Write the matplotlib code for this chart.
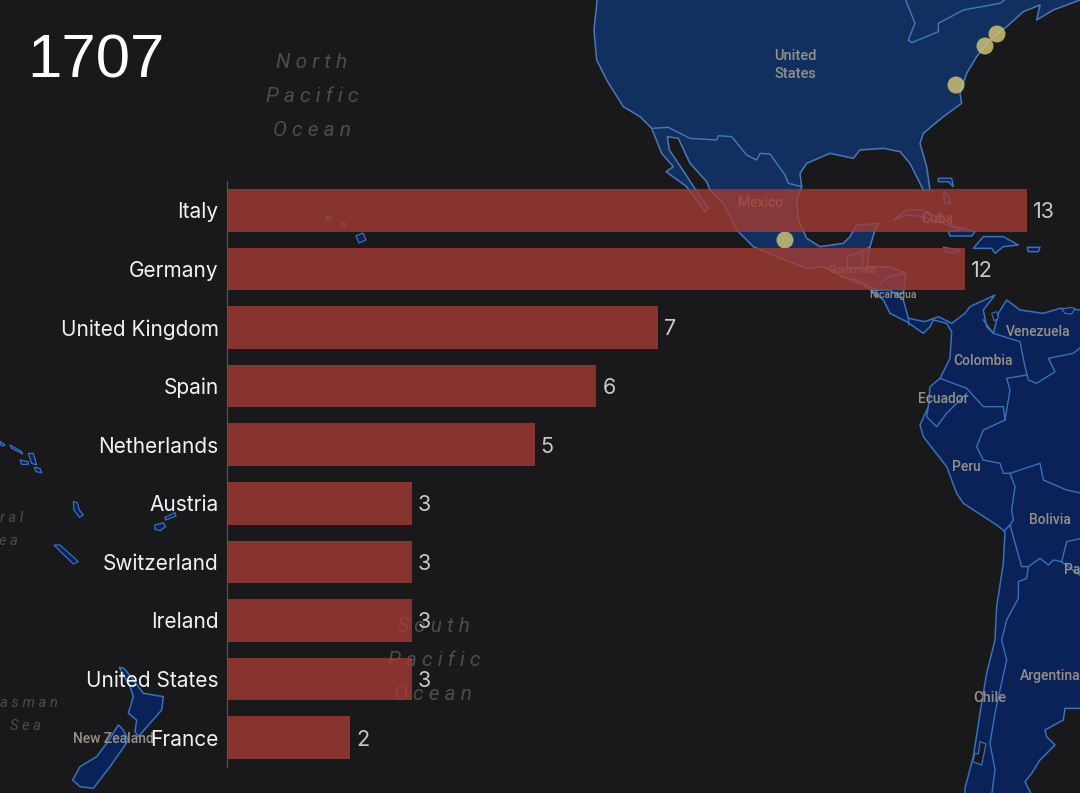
import matplotlib
matplotlib.use("Agg")
import matplotlib.pyplot as plt
from matplotlib.patches import Circle, Polygon

# ── Chart data ────────────────────────────────────────────────────────────────
year = "1707"
countries = ["Italy", "Germany", "United Kingdom", "Spain", "Netherlands",
             "Austria", "Switzerland", "Ireland", "United States", "France"]
counts = [13, 12, 7, 6, 5, 3, 3, 3, 3, 2]

# city dots, in picture pixels
dot_x = [785, 997, 985, 956]
dot_y = [240, 34, 46, 85]

# ── Map outlines (3x) ──────────────────────────
CROP_TOP = (590, 0)       # crop over North America
CROP_RIGHT = (840, 290)   # crop over South America
CROP_LEFT = (0, 430)      # crop over New Zealand
CROP_NONE = (0, 0)        # plain picture coordinates, times 3

north_america = [(22, -5), (12, 90), (20, 180), (50, 240), (100, 320), (150, 350), (185, 385),
                 (215, 460), (250, 500), (228, 515), (290, 560), (320, 600), (345, 635), (355, 625),
                 (330, 590), (285, 520), (238, 450), (232, 410), (265, 415), (300, 490), (350, 545),
                 (360, 570), (400, 610), (440, 690), (490, 740), (560, 770), (650, 805), (700, 800),
                 (760, 830), (830, 860), (860, 885), (895, 885), (940, 880), (948, 820), (900, 800),
                 (830, 800), (840, 740), (855, 690), (868, 670), (800, 675), (780, 710), (760, 730),
                 (690, 740), (650, 715), (625, 660), (620, 600), (635, 560), (630, 520), (650, 490),
                 (720, 460), (790, 475), (810, 450), (880, 445), (930, 455), (960, 490), (1000, 570),
                 (1020, 570), (1010, 500), (990, 430), (1000, 400), (1060, 350), (1115, 310), (1110, 280),
                 (1130, 220), (1160, 170), (1200, 120), (1250, 80), (1300, 35), (1350, 15), (1340, 60),
                 (1390, 30), (1470, 0), (1470, -5)]
us_canada_border = [(945, -5), (975, 70), (955, 120), (965, 128), (1045, 95), (1045, 70), (1120, 30),
                    (1230, 10), (1250, -5)]
us_mexico_border = [(185, 385), (235, 382), (300, 415), (380, 420), (385, 407), (425, 410), (470, 465),
                    (500, 480), (510, 460), (540, 462), (585, 525), (595, 550), (635, 560)]
central_borders = [[(770, 770), (815, 755), (840, 740)], [(770, 770), (770, 800), (830, 800)],
                   [(815, 755), (815, 800)], [(750, 830), (800, 840), (860, 870)],
                   [(870, 850), (900, 830), (948, 820)]]
baja_islands = [
    [(910, 660), (950, 630), (1000, 630), (1060, 660), (1100, 680), (1155, 695), (1145, 708), (1080, 708),
     (1075, 695), (1110, 690), (1060, 670), (1000, 650), (950, 645)],
    [(1150, 745), (1180, 710), (1240, 710), (1285, 735), (1240, 740), (1215, 760), (1205, 745)],
    [(1312, 742), (1350, 742), (1345, 755), (1315, 755)],
    [(1060, 742), (1110, 750), (1090, 760), (1065, 755)],
    [(1045, 535), (1085, 535), (1090, 560), (1075, 545), (1045, 545)],
    [(1060, 575), (1075, 585), (1080, 612), (1065, 610)],
]

south_america = [(150, 0), (190, 30), (205, 85), (255, 95), (295, 80), (335, 100), (375, 70), (390, 50),
                 (465, 15), (430, 60), (440, 110), (460, 130), (475, 70), (500, 30), (540, 60), (610, 70),
                 (660, 55), (725, 60), (725, 1255), (675, 1255), (670, 1290), (615, 1320), (620, 1340),
                 (645, 1365), (600, 1410), (575, 1450), (555, 1475), (575, 1515), (375, 1515), (375, 1495),
                 (400, 1400), (420, 1270), (440, 1150), (465, 1050), (470, 950), (490, 820), (495, 725),
                 (470, 705), (370, 640), (350, 610), (320, 530), (250, 440), (240, 405), (265, 350),
                 (270, 290), (300, 265), (330, 205), (335, 125), (320, 100), (280, 90), (270, 110),
                 (250, 130), (200, 95), (150, 70), (130, 30), (95, 0)]
south_borders = [
    [(495, 720), (510, 705), (545, 830), (565, 830), (560, 865), (535, 875), (535, 925), (500, 990), (485, 1050),
     (500, 1110), (480, 1200), (465, 1270), (450, 1360), (465, 1440), (455, 1515)],
    [(510, 705), (520, 690), (515, 660), (525, 590), (510, 550), (600, 520), (610, 570), (680, 600), (725, 610)],
    [(565, 830), (600, 805), (625, 825), (640, 810), (665, 815), (680, 755), (725, 745)],
    [(665, 815), (725, 860)],
    [(510, 550), (490, 550), (480, 520), (430, 510), (410, 470), (430, 420), (495, 390), (510, 300), (500, 265),
     (560, 255)],
    [(300, 265), (380, 295), (430, 350), (490, 350), (495, 390)],
    [(380, 310), (320, 370), (290, 410), (260, 380), (265, 350)],
    [(430, 90), (460, 130), (540, 155), (555, 230), (565, 270), (590, 280), (645, 245), (625, 205), (700, 190),
     (725, 170)],
    [(205, 85), (207, 105)],
]
lake_maracaibo = [(455, 70), (470, 65), (475, 85), (462, 92)]
trinidad = [(665, 58), (690, 52), (705, 55), (695, 72), (675, 70)]
chile_sound = [(420, 1355), (438, 1362), (425, 1425), (398, 1415), (405, 1390), (415, 1392)]

pacific_islands = [
    [(-5, 30), (15, 45), (5, 48)],
    [(30, 45), (65, 65), (68, 72), (35, 55)],
    [(60, 90), (85, 95), (85, 103), (65, 103)],
    [(85, 70), (100, 70), (110, 105), (95, 100)],
    [(103, 112), (120, 115), (125, 128), (108, 125)],
    [(220, 215), (232, 218), (238, 240), (250, 255), (238, 262), (222, 240)],
    [(162, 345), (180, 345), (235, 395), (220, 402)],
    [(465, 285), (490, 278), (497, 290), (480, 302), (465, 298)],
    [(495, 262), (525, 248), (528, 258), (497, 270)],
]
new_zealand = [
    [(358, 712), (372, 715), (400, 750), (430, 790), (490, 800), (485, 840), (450, 880), (415, 920), (405, 905),
     (410, 870), (385, 850), (400, 800), (390, 770)],
    [(355, 885), (370, 900), (385, 930), (365, 960), (330, 1010), (280, 1075), (240, 1070), (218, 1050), (240, 1010),
     (290, 980), (320, 940)],
]
hawaii = [
    [(1068, 708), (1089, 699), (1098, 720), (1077, 729)],
    [(978, 648), (990, 648), (990, 657), (978, 657)],
    [(1023, 669), (1035, 669), (1035, 678), (1023, 678)],
]

# label, x, y (picture pixels), size
country_labels = [("United\nStates", 795, 65, 10.5), ("Mexico", 761, 203, 10), ("Cuba", 937, 219, 10),
                  ("Guatemala", 852, 270, 7), ("Nicaragua", 893, 295, 7.5), ("Venezuela", 1038, 332, 10),
                  ("Colombia", 983, 361, 10), ("Ecuador", 943, 399, 10), ("Peru", 966, 467, 10),
                  ("Bolivia", 1050, 520, 10), ("Pa", 1072, 570, 10), ("Argentina", 1050, 676, 10),
                  ("Chile", 990, 698, 10.5), ("New Zealand", 113, 739, 10)]
ocean_labels = [("N o r t h", 312, 63, 15), ("P a c i f i c", 312, 96, 15), ("O c e a n", 312, 130, 15),
                ("S o u t h", 433, 626, 15), ("P a c i f i c", 434, 660, 15), ("O c e a n", 433, 694, 15),
                ("r a l", 12, 518, 10.5), ("e a", 8, 541, 10.5), ("T a s m a n", 23, 703, 10.5),
                ("S e a", 25, 726, 10.5)]

BG = "#19191b"
NA_FILL = "#12305f"
SA_FILL = "#0a2257"
NA_EDGE = "#4a78b5"
SA_EDGE = "#3a70ba"


def to_px(pts, crop):
    return [(crop[0] + x / 3, crop[1] + y / 3) for x, y in pts]


def draw_land(ax, pts, crop, fill, edge, lw=1.1):
    ax.add_patch(Polygon(to_px(pts, crop), closed=True, facecolor=fill, edgecolor=edge, linewidth=lw,
                         joinstyle="round"))


def draw_line(ax, pts, crop, edge, lw=1.0):
    xs, ys = zip(*to_px(pts, crop))
    ax.plot(xs, ys, color=edge, linewidth=lw, solid_joinstyle="round")


fig = plt.figure(figsize=(10.8, 7.93), dpi=100, facecolor=BG)

# ── Hintergrundkarte, in Bildpixeln ───────────────────────────────────────────
map_ax = fig.add_axes([0, 0, 1, 1])
map_ax.set_xlim(0, 1080)
map_ax.set_ylim(793, 0)
map_ax.axis("off")

draw_land(map_ax, north_america, CROP_TOP, NA_FILL, NA_EDGE)
draw_line(map_ax, us_canada_border, CROP_TOP, NA_EDGE)
draw_line(map_ax, us_mexico_border, CROP_TOP, NA_EDGE)
for border in central_borders:
    draw_line(map_ax, border, CROP_TOP, NA_EDGE)
for island in baja_islands:
    draw_land(map_ax, island, CROP_TOP, SA_FILL, SA_EDGE)

draw_land(map_ax, south_america, CROP_RIGHT, SA_FILL, SA_EDGE)
for border in south_borders:
    draw_line(map_ax, border, CROP_RIGHT, SA_EDGE)
draw_land(map_ax, lake_maracaibo, CROP_RIGHT, BG, SA_EDGE, lw=0.8)
draw_land(map_ax, trinidad, CROP_RIGHT, SA_FILL, SA_EDGE, lw=0.8)
draw_land(map_ax, chile_sound, CROP_RIGHT, BG, SA_EDGE, lw=0.9)

for island in pacific_islands:
    draw_land(map_ax, island, CROP_LEFT, SA_FILL, SA_EDGE, lw=0.9)
for island in new_zealand:
    draw_land(map_ax, island, CROP_LEFT, SA_FILL, SA_EDGE)
for island in hawaii:
    draw_land(map_ax, island, CROP_NONE, SA_FILL, SA_EDGE, lw=0.9)

for label, x, y, size in country_labels:
    map_ax.text(x, y, label, color="#969186", fontsize=size, family="Roboto", weight="medium", ha="center",
                va="center", linespacing=1.4)
for label, x, y, size in ocean_labels:
    map_ax.text(x, y, label, color="#4c4c50", fontsize=size, family="Roboto", style="italic", ha="center",
                va="center")

for x, y in zip(dot_x, dot_y):
    map_ax.add_patch(Circle((x, y), 8.5, facecolor="#d2c676", edgecolor="none", alpha=0.82, zorder=5))

map_ax.text(27, 62, year, color="white", fontsize=44.5, family="Liberation Sans", ha="left", va="center")

# ── Balken ────────────────────────────────────────────────────────────────────
bar_ax = fig.add_axes([227 / 1080, 1 - 767 / 793, (1080 - 227) / 1080, (767 - 181) / 793])
bar_ax.patch.set_alpha(0)
positions = list(range(len(countries)))
bars = bar_ax.barh(positions, counts, height=0.73, color="#a43b35", alpha=0.8)
bar_ax.set_xlim(0, (1080 - 227) / 61.5)
bar_ax.set_ylim(9.5, -0.5)
bar_ax.set_yticks(positions, countries)
bar_ax.set_xticks([])
bar_ax.tick_params(axis="y", length=0, pad=6, labelsize=15, labelcolor="#f2f2f2")
for tick in bar_ax.get_yticklabels():
    tick.set_family("Inter")
for side in ["top", "right", "bottom"]:
    bar_ax.spines[side].set_visible(False)
bar_ax.spines["left"].set_color("#55555a")
bar_ax.spines["left"].set_linewidth(0.8)
value_labels = bar_ax.bar_label(bars, labels=[str(c) for c in counts], padding=4.5, color="#c9c9c9", fontsize=15.5,
                                family="Inter")
for label in value_labels:
    label.set_verticalalignment("center_baseline")

fig.savefig("out.png", dpi=100, facecolor=BG)
